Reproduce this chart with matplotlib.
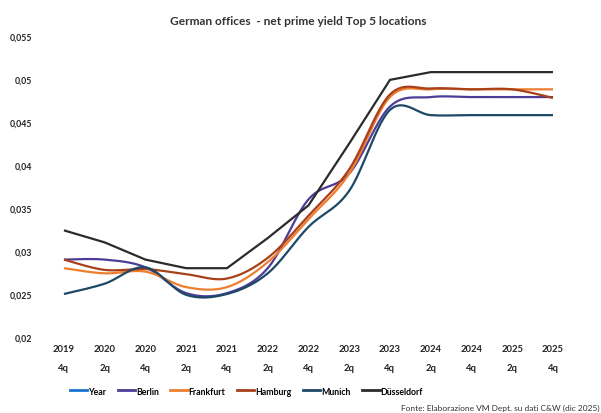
import numpy as np
import matplotlib
matplotlib.use("Agg")
import matplotlib.pyplot as plt
from matplotlib.lines import Line2D

periods = ["2019\n4q", "2020\n2q", "2020\n4q", "2021\n2q", "2021\n4q", "2022\n2q",
           "2022\n4q", "2023\n2q", "2023\n4q", "2024\n2q", "2024\n4q", "2025\n2q", "2025\n4q"]

berlin = [0.0290, 0.0290, 0.0281, 0.0251, 0.0251, 0.0280, 0.0360, 0.0390,
          0.0468, 0.0479, 0.0479, 0.0479, 0.0479]
frankfurt = [0.0280, 0.0274, 0.0276, 0.0258, 0.0258, 0.0287, 0.0337, 0.0390,
             0.0479, 0.0488, 0.0488, 0.0488, 0.0488]
hamburg = [0.0290, 0.0278, 0.0279, 0.0273, 0.0268, 0.0292, 0.0341, 0.0395,
           0.0482, 0.0489, 0.0488, 0.0488, 0.0478]
munich = [0.0250, 0.0262, 0.0281, 0.0249, 0.0250, 0.0274, 0.0328, 0.0370,
          0.0464, 0.0458, 0.0458, 0.0458, 0.0458]
duesseldorf = [0.0324, 0.0310, 0.0290, 0.0280, 0.0280, 0.0315, 0.0353, 0.0425,
               0.0499, 0.0508, 0.0508, 0.0508, 0.0508]

y_ticks = [0.02, 0.025, 0.03, 0.035, 0.04, 0.045, 0.05, 0.055]
y_tick_labels = ["0,02", "0,025", "0,03", "0,035", "0,04", "0,045", "0,05", "0,055"]

# (name, values, colour, smoothed)
series = [
    ("Berlin", berlin, "#4E3C98", True),
    ("Frankfurt", frankfurt, "#EE7D2E", True),
    ("Hamburg", hamburg, "#A8401A", True),
    ("Munich", munich, "#1D4866", True),
    ("Düsseldorf", duesseldorf, "#2B2B2B", False),
]


def smooth(x, y, n=30):
    """Catmull-Rom style Bezier smoothing through every point."""
    x = np.asarray(x, float)
    y = np.asarray(y, float)
    px = np.concatenate([[x[0]], x, [x[-1]]])
    py = np.concatenate([[y[0]], y, [y[-1]]])
    xs, ys = [], []
    t = np.linspace(0, 1, n, endpoint=False)
    for i in range(1, len(px) - 2):
        p0 = np.array([px[i - 1], py[i - 1]])
        p1 = np.array([px[i], py[i]])
        p2 = np.array([px[i + 1], py[i + 1]])
        p3 = np.array([px[i + 2], py[i + 2]])
        c1 = p1 + (p2 - p0) / 6.0
        c2 = p2 - (p3 - p1) / 6.0
        b = ((1 - t) ** 3)[:, None] * p1 + (3 * (1 - t) ** 2 * t)[:, None] * c1 \
            + (3 * (1 - t) * t ** 2)[:, None] * c2 + (t ** 3)[:, None] * p2
        xs.append(b[:, 0])
        ys.append(b[:, 1])
    xs.append([x[-1]])
    ys.append([y[-1]])
    return np.concatenate(xs), np.concatenate(ys)


plt.rcParams["font.family"] = ["Lato", "DejaVu Sans"]

fig = plt.figure(figsize=(6.01, 4.14), dpi=100)
ax = fig.add_axes([0.0725, 0.1836, 0.8815, 0.727])

x = np.arange(len(periods))
handles = [Line2D([], [], color="#1A73D0", lw=2.0, label="Year")]
for name, vals, col, sm in series:
    if sm:
        xs, ys = smooth(x, vals)
    else:
        xs, ys = x, np.asarray(vals)
    line, = ax.plot(xs, ys, color=col, lw=1.6, solid_capstyle="butt",
                    solid_joinstyle="miter", label=name)
    handles.append(Line2D([], [], color=col, lw=2.0, label=name))

ax.set_xlim(-0.5, len(periods) - 0.5)
ax.set_ylim(0.02, 0.055)
ax.set_yticks(y_ticks)
ax.set_yticklabels(y_tick_labels, fontsize=6.3, fontweight="bold", color="#222222")
ax.set_xticks(x)
ax.set_xticklabels(periods, fontsize=6.8, fontweight="bold", color="#222222",
                   linespacing=2.4)
ax.tick_params(length=0, axis="y", pad=8)
ax.tick_params(length=0, axis="x", pad=5)
for s in ax.spines.values():
    s.set_visible(False)

fig.text(0.497, 0.947, "German offices  - net prime yield Top 5 locations",
         ha="center", va="center", fontsize=8.6, fontweight="bold", color="#333333")

fig.legend(handles=handles, loc="center", bbox_to_anchor=(0.41, 0.053),
           ncol=6, frameon=False, handlelength=2.0, handletextpad=0.1,
           columnspacing=1.3, prop={"size": 6.3, "weight": "bold"})

fig.text(0.997, 0.014, "Fonte: Elaborazione VM Dept. su dati C&W (dic 2025)",
         ha="right", va="center", fontsize=6.0, color="#333333")

fig.savefig("out.png", dpi=100)
